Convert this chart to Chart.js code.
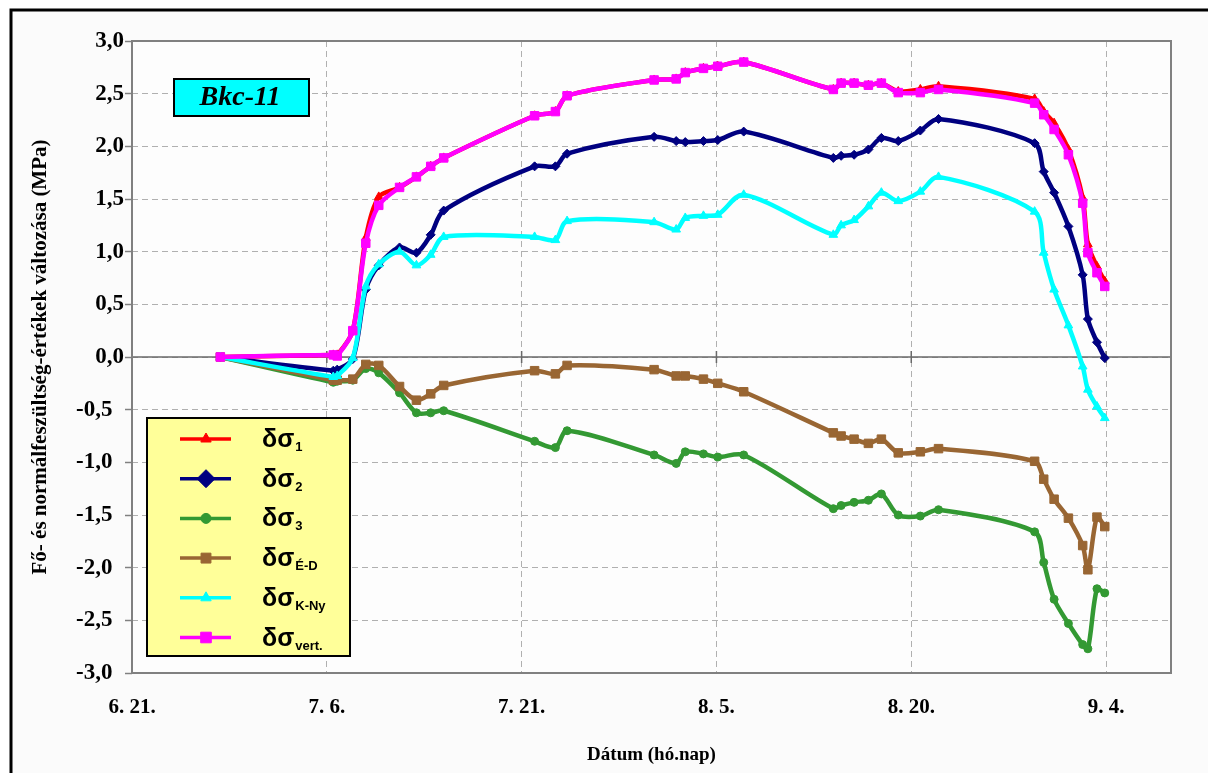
<!DOCTYPE html>
<html>
<head>
<meta charset="utf-8">
<script src="https://cdn.jsdelivr.net/npm/chart.js@4.4.0/dist/chart.umd.min.js"></script>
<style>
  html, body { margin: 0; padding: 0; background: #fff; }
  #wrap { width: 1208px; height: 773px; position: relative; }
</style>
</head>
<body>
<div id="wrap"><canvas id="stress-graph"></canvas></div>
<script>
// measurement days, counted from 6.21.
const days = [6.8, 15.5, 15.8, 17.0, 18.0, 19.0, 20.6, 21.9, 23.0, 24.0,
  31.0, 32.6, 33.5, 40.2, 41.9, 42.6, 44.0, 45.1, 47.1,
  54.0, 54.6, 55.6, 56.7, 57.7, 59.0, 60.7, 62.1,
  69.5, 70.2, 71.0, 72.1, 73.2, 73.6, 74.3, 74.9]

const sigma1 = [0, 0.02, 0.02, 0.25, 1.13, 1.52, 1.61, 1.71, 1.81, 1.89,
  2.29, 2.33, 2.48, 2.63, 2.64, 2.70, 2.74, 2.76, 2.80,
  2.54, 2.60, 2.60, 2.58, 2.60, 2.52, 2.54, 2.57,
  2.45, 2.33, 2.22, 1.97, 1.51, 1.07, 0.86, 0.72]
const sigma2 = [0, -0.13, -0.12, -0.02, 0.64, 0.87, 1.04, 0.99, 1.16, 1.39,
  1.81, 1.81, 1.93, 2.09, 2.05, 2.04, 2.05, 2.06, 2.14,
  1.89, 1.91, 1.92, 1.97, 2.08, 2.05, 2.15, 2.26,
  2.03, 1.76, 1.56, 1.24, 0.78, 0.36, 0.14, -0.01]
const sigma3 = [0, -0.24, -0.23, -0.22, -0.11, -0.15, -0.34, -0.53, -0.53, -0.51,
  -0.80, -0.86, -0.70, -0.93, -1.01, -0.90, -0.92, -0.95, -0.93,
  -1.44, -1.41, -1.38, -1.36, -1.30, -1.50, -1.51, -1.45,
  -1.66, -1.95, -2.30, -2.53, -2.73, -2.77, -2.20, -2.24]
const sigmaED = [0, -0.22, -0.22, -0.21, -0.07, -0.08, -0.28, -0.41, -0.35, -0.27,
  -0.13, -0.16, -0.08, -0.12, -0.18, -0.18, -0.21, -0.25, -0.33,
  -0.72, -0.75, -0.78, -0.82, -0.78, -0.91, -0.90, -0.87,
  -0.99, -1.16, -1.35, -1.53, -1.79, -2.02, -1.52, -1.61]
const sigmaKNy = [0, -0.19, -0.18, -0.01, 0.67, 0.88, 1.00, 0.87, 0.97, 1.14,
  1.14, 1.11, 1.29, 1.28, 1.21, 1.32, 1.34, 1.35, 1.54,
  1.16, 1.25, 1.30, 1.43, 1.56, 1.48, 1.57, 1.71,
  1.38, 0.99, 0.64, 0.30, -0.09, -0.31, -0.47, -0.58]
const sigmaVert = [0, 0.02, 0.01, 0.25, 1.08, 1.44, 1.61, 1.71, 1.81, 1.89,
  2.29, 2.33, 2.48, 2.63, 2.64, 2.70, 2.74, 2.76, 2.80,
  2.54, 2.60, 2.60, 2.58, 2.60, 2.51, 2.51, 2.54,
  2.41, 2.30, 2.16, 1.92, 1.46, 0.99, 0.80, 0.67]

const xTickDays = [0, 15, 30, 45, 60, 75]
const xTickLabels = ['6. 21.', '7. 6.', '7. 21.', '8. 5.', '8. 20.', '9. 4.']
const legendSubs = ['1', '2', '3', 'É-D', 'K-Ny', 'vert.']
const chartLabel = 'Bkc-11'

const serif = '"Liberation Serif", "Times New Roman", serif'

const series = [
  { values: sigma1, color: '#ff0000', style: 'triangle', radius: 5, order: 6 },
  { values: sigma2, color: '#000080', style: 'rectRot', radius: 4.5, order: 5 },
  { values: sigma3, color: '#339933', style: 'circle', radius: 4, order: 4 },
  { values: sigmaED, color: '#996633', style: 'rect', radius: 6, order: 3 },
  { values: sigmaKNy, color: '#00ffff', style: 'triangle', radius: 5, order: 2 },
  { values: sigmaVert, color: '#ff00ff', style: 'rect', radius: 6, order: 1 }
]

const legendMarkers = [
  { radius: 6 }, { radius: 9 }, { radius: 5 }, { radius: 7 }, { radius: 6 }, { radius: 7.5 }
]

const frame = {
  id: 'frame',
  beforeDraw (chart) {
    const ctx = chart.ctx
    ctx.save()
    ctx.fillStyle = '#ffffff'
    ctx.fillRect(0, 0, chart.width, chart.height)
    ctx.fillStyle = '#fbfbfb'
    ctx.fillRect(11, 10, chart.width, chart.height)
    ctx.strokeStyle = '#000000'
    ctx.lineWidth = 3
    ctx.beginPath()
    ctx.moveTo(11, chart.height + 5)
    ctx.lineTo(11, 10)
    ctx.lineTo(chart.width + 5, 10)
    ctx.stroke()
    const a = chart.chartArea
    ctx.fillStyle = '#fdfdfd'
    ctx.fillRect(a.left, a.top, a.right - a.left, a.bottom - a.top)
    ctx.restore()
  },
  beforeDatasetsDraw (chart) {
    const ctx = chart.ctx
    const a = chart.chartArea
    const x = chart.scales.x
    const y0 = chart.scales.y.getPixelForValue(0)
    ctx.save()
    ctx.strokeStyle = '#6a6a6a'
    ctx.lineWidth = 1.5
    ctx.beginPath()
    ctx.moveTo(a.left, y0)
    ctx.lineTo(a.right, y0)
    xTickDays.forEach(d => {
      const px = x.getPixelForValue(d)
      ctx.moveTo(px, y0 - 6)
      ctx.lineTo(px, y0 + 6)
    })
    ctx.stroke()
    ctx.strokeStyle = '#808080'
    ctx.lineWidth = 2
    ctx.strokeRect(a.left, a.top, a.right - a.left, a.bottom - a.top)
    ctx.restore()
  },
  afterDraw (chart) {
    const ctx = chart.ctx
    ctx.save()
    // title box
    ctx.fillStyle = '#00ffff'
    ctx.fillRect(174, 79, 135, 37)
    ctx.strokeStyle = '#000000'
    ctx.lineWidth = 2
    ctx.strokeRect(174, 79, 135, 37)
    ctx.fillStyle = '#000000'
    ctx.font = 'bold italic 28px ' + serif
    ctx.textAlign = 'center'
    ctx.textBaseline = 'middle'
    ctx.fillText(chartLabel, 240, 98)

    // legend box
    ctx.fillStyle = '#ffff99'
    ctx.fillRect(147, 418, 203, 238)
    ctx.strokeStyle = '#000000'
    ctx.lineWidth = 2
    ctx.strokeRect(147, 418, 203, 238)
    series.forEach((s, i) => {
      const ry = 439 + i * 39.7
      ctx.strokeStyle = s.color
      ctx.lineWidth = 3.5
      ctx.beginPath()
      ctx.moveTo(180, ry)
      ctx.lineTo(231, ry)
      ctx.stroke()
      ctx.fillStyle = s.color
      ctx.strokeStyle = s.color
      ctx.lineWidth = 1
      Chart.helpers.drawPoint(ctx, { pointStyle: s.style, radius: legendMarkers[i].radius, rotation: 0, borderWidth: 1 }, 206, ry)
      ctx.fillStyle = '#000000'
      ctx.textAlign = 'left'
      ctx.textBaseline = 'alphabetic'
      ctx.font = 'bold 25px "Liberation Sans", Arial, sans-serif'
      ctx.fillText('δσ', 262, ry + 8)
      const w = ctx.measureText('δσ').width
      ctx.font = 'bold 13px "Liberation Sans", Arial, sans-serif'
      ctx.fillText(legendSubs[i], 262 + w + 1, ry + 12)
    })
    ctx.restore()
  }
}

new Chart(document.getElementById('stress-graph').getContext('2d'), {
  type: 'line',
  data: {
    datasets: series.map((s, i) => ({
      label: 'δσ' + legendSubs[i],
      data: days.map((d, j) => ({ x: d, y: s.values[j] })),
      borderColor: s.color,
      backgroundColor: s.color,
      pointStyle: s.style,
      pointRadius: s.radius,
      pointBorderWidth: 1,
      pointBackgroundColor: s.color,
      pointBorderColor: s.color,
      borderWidth: 4.5,
      tension: 0.3,
      order: s.order
    }))
  },
  options: {
    responsive: true,
    maintainAspectRatio: false,
    animation: false,
    layout: { padding: { left: 0, top: 41, right: 37, bottom: 0 } },
    plugins: {
      legend: { display: false },
      tooltip: { enabled: false }
    },
    scales: {
      x: {
        type: 'linear',
        min: 0,
        max: 80,
        afterBuildTicks: scale => {
          scale.ticks = xTickDays.map(v => ({ value: v }))
        },
        afterFit: scale => { scale.height = 100 },
        grid: {
          color: '#b0b0b0',
          drawTicks: false
        },
        border: { display: false, dash: [6, 4] },
        ticks: {
          padding: 22,
          color: '#000000',
          font: { family: serif, size: 21, weight: 'bold' },
          callback: value => xTickLabels[xTickDays.indexOf(value)]
        },
        title: {
          display: true,
          text: 'Dátum (hó.nap)',
          color: '#000000',
          font: { family: serif, size: 19, weight: 'bold' },
          padding: { top: 0, bottom: 7 }
        }
      },
      y: {
        min: -3,
        max: 3,
        afterFit: scale => { scale.width = 132 },
        grid: {
          color: '#b0b0b0',
          tickColor: '#808080',
          tickLength: 7,
          tickWidth: 1.5
        },
        border: { display: false, dash: [6, 4] },
        ticks: {
          stepSize: 0.5,
          padding: 1,
          color: '#000000',
          font: { family: serif, size: 23, weight: 'bold' },
          callback: value => value < 0
            ? value.toFixed(1).replace('.', ',') + '\u2002'
            : value.toFixed(1).replace('.', ',')
        },
        title: {
          display: true,
          text: 'Fő- és normálfeszültség-értékek változása (MPa)',
          color: '#000000',
          font: { family: serif, size: 21, weight: 'bold' },
          padding: { top: 28, bottom: 0 }
        }
      }
    }
  },
  plugins: [frame]
})
</script>
</body>
</html>
